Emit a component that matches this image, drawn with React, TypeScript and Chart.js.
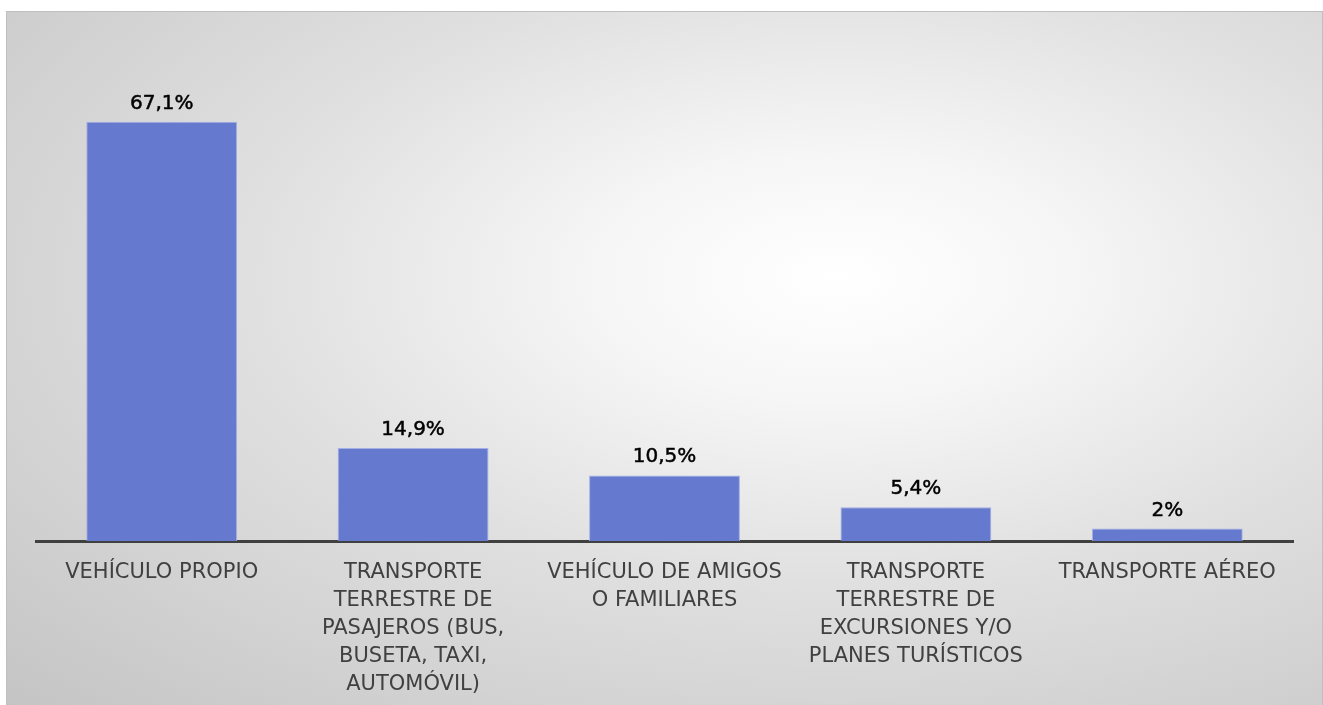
import React, { useEffect, useRef } from "react";
import { Chart, registerables } from "chart.js";

Chart.register(...registerables);

const categories: string[][] = [
  ["VEHÍCULO PROPIO"],
  ["TRANSPORTE", "TERRESTRE DE", "PASAJEROS (BUS,", "BUSETA, TAXI,", "AUTOMÓVIL)"],
  ["VEHÍCULO DE AMIGOS", "O FAMILIARES"],
  ["TRANSPORTE", "TERRESTRE DE", "EXCURSIONES Y/O", "PLANES TURÍSTICOS"],
  ["TRANSPORTE AÉREO"],
];
const values: number[] = [67.1, 14.9, 10.5, 5.4, 2];
const valueLabels: string[] = ["67,1%", "14,9%", "10,5%", "5,4%", "2%"];

const FONT = "DejaVu Sans";

const dataLabelPlugin = {
  id: "dataLabels",
  afterDatasetsDraw(chart: any) {
    const ctx = chart.ctx;
    const meta = chart.getDatasetMeta(0);
    ctx.save();
    ctx.fillStyle = "#000000";
    ctx.strokeStyle = "#000000";
    ctx.lineWidth = 0.5;
    ctx.font = `20px "${FONT}"`;
    ctx.textAlign = "center";
    ctx.textBaseline = "alphabetic";
    meta.data.forEach((bar: any, i: number) => {
      ctx.fillText(valueLabels[i], bar.x, bar.y - 13);
      ctx.strokeText(valueLabels[i], bar.x, bar.y - 13);
    });
    ctx.restore();
  },
};

export default function App() {
  const ref = useRef<HTMLCanvasElement | null>(null);
  useEffect(() => {
    if (!ref.current) return;
    const chart = new Chart(ref.current, {
      type: "bar",
      data: {
        labels: categories,
        datasets: [
          {
            data: values,
            backgroundColor: "#6579CE",
            borderColor: "#A3AFE6",
            borderWidth: 1,
            barPercentage: 0.6,
            categoryPercentage: 1,
          },
        ],
      },
      options: {
        responsive: false,
        animation: false,
        layout: { padding: { left: 29, right: 29, top: 29, bottom: 10 } },
        plugins: { legend: { display: false }, tooltip: { enabled: false } },
        scales: {
          y: { display: false, min: 0, max: 80 },
          x: {
            grid: { display: false, drawTicks: false },
            border: { display: true, color: "#404040", width: 3 },
            ticks: {
              color: "#404040",
              padding: 18,
              maxRotation: 0,
              autoSkip: false,
              font: { family: FONT, size: 21, lineHeight: 28 / 21 },
            },
          },
        },
      },
      plugins: [dataLabelPlugin],
    });
    return () => chart.destroy();
  }, []);
  return (
    <div
      style={{
        position: "fixed",
        left: 6,
        top: 11,
        width: 1317,
        height: 700,
        overflow: "hidden",
        boxSizing: "border-box",
        border: "1px solid #bfbfbf",
        background:
          "radial-gradient(ellipse farthest-corner at 63% 38%, #ffffff 0%, #f6f6f6 20%, #e0e0e0 50%, #c4c4c4 100%)",
      }}
    >
      <canvas ref={ref} width={1315} height={715} style={{ display: "block" }} />
    </div>
  );
}
